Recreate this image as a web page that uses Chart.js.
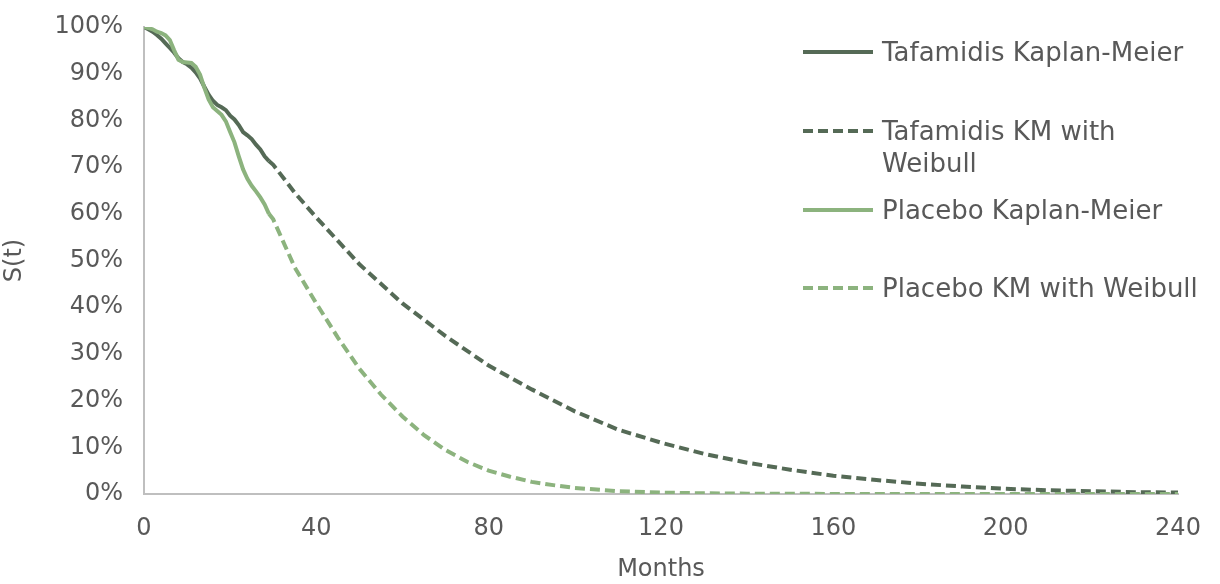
<!DOCTYPE html>
<html>
<head>
<meta charset="utf-8">
<script src="https://cdn.jsdelivr.net/npm/chart.js@4"></script>
<style>
  html, body { margin: 0; padding: 0; background: #fff; }
  .wrap { position: relative; width: 1220px; height: 584px; }
  #survChart { position: absolute; left: 0; top: 0; }
  .legend { position: absolute; left: 0; top: 0; width: 1220px; height: 584px; pointer-events: none;
    font-family: "DejaVu Sans", sans-serif; font-size: 26px; color: #595959; }
  .legend-item { position: absolute; left: 803px; display: flex; align-items: flex-start; }
  .legend-item svg { flex: none; }
  .legend-item span { margin-left: 9px; line-height: 32px; white-space: nowrap; }
</style>
</head>
<body>
<div class="wrap">
  <canvas id="survChart" width="1220" height="584"></canvas>
  <div class="legend" id="legend"></div>
</div>
<script>
// Kaplan-Meier (observed) survival, % by month
const tafKmMonths = [0, 1, 2, 3, 4, 5, 6, 7, 8, 9, 10, 11, 12, 13, 14, 15, 16, 17, 18, 19, 20, 21, 22, 23, 24, 25, 26, 27, 28, 29];
const tafKmSurv = [100, 99.5, 99, 98.3, 97.5, 96.5, 95.5, 94.5, 93.3, 92.5, 92, 91.3, 90.3, 89, 87.2, 85.5, 84.2, 83.3, 82.8, 82.2, 81, 80.2, 79, 77.5, 76.8, 76, 74.8, 73.8, 72.3, 71.3];

const plaKmMonths = [0, 1, 2, 3, 4, 5, 6, 7, 8, 9, 10, 11, 12, 13, 14, 15, 16, 17, 18, 19, 20, 21, 22, 23, 24, 25, 26, 27, 28, 29];
const plaKmSurv = [100, 99.8, 99.5, 99, 98.7, 98.2, 97.2, 95, 93, 92.5, 92.4, 92.3, 91.5, 89.8, 87, 84.5, 82.8, 82, 81.2, 79.8, 77.5, 75.3, 72.3, 69.5, 67.5, 66, 64.8, 63.5, 62, 60];

// KM with Weibull extrapolation, % by month
const tafWbMonths = [29, 30, 35, 40, 50, 60, 70, 80, 90, 100, 110, 120, 130, 140, 150, 160, 170, 180, 190, 200, 210, 220, 230, 240];
const tafWbSurv = [71.3, 70.5, 64.5, 59.2, 49.2, 40.8, 33.8, 27.5, 22.4, 17.7, 13.8, 11.0, 8.6, 6.7, 5.2, 3.9, 3.0, 2.2, 1.6, 1.1, 0.8, 0.6, 0.4, 0.3];

const plaWbMonths = [29, 30, 35, 40, 45, 50, 55, 60, 65, 70, 75, 80, 85, 90, 95, 100, 110, 120, 130, 140, 160, 200, 240];
const plaWbSurv = [60, 58.8, 48.5, 40.8, 33.5, 26.8, 21.3, 16.6, 12.6, 9.4, 6.9, 5.0, 3.7, 2.6, 1.9, 1.3, 0.6, 0.3, 0.15, 0.07, 0.02, 0, 0];

const seriesLabels = ["Tafamidis Kaplan-Meier", "Tafamidis KM with Weibull", "Placebo Kaplan-Meier", "Placebo KM with Weibull"];
const xTicks = [0, 40, 80, 120, 160, 200, 240];
const yTicks = [0, 10, 20, 30, 40, 50, 60, 70, 80, 90, 100];

const darkGreen = "#556a56";
const lightGreen = "#8cb37e";
const textColor = "#595959";
const axisColor = "#bfbfbf";
const fontFamily = "'DejaVu Sans', sans-serif";
const lineW = 4;
const dash = [10, 5];

const toPoints = (xs, ys) => xs.map((x, i) => ({ x, y: ys[i] }));

const datasets = [
  { label: seriesLabels[0], data: toPoints(tafKmMonths, tafKmSurv), borderColor: darkGreen, borderWidth: lineW, order: 2 },
  { label: seriesLabels[1], data: toPoints(tafWbMonths, tafWbSurv), borderColor: darkGreen, borderWidth: lineW, borderDash: dash, order: 2 },
  { label: seriesLabels[2], data: toPoints(plaKmMonths, plaKmSurv), borderColor: lightGreen, borderWidth: lineW, order: 1 },
  { label: seriesLabels[3], data: toPoints(plaWbMonths, plaWbSurv), borderColor: lightGreen, borderWidth: lineW, borderDash: dash, order: 1 }
];

new Chart(document.getElementById("survChart"), {
  type: "line",
  data: { datasets },
  options: {
    responsive: false,
    animation: false,
    layout: { padding: { top: 27, right: 42, left: 0, bottom: 0 } },
    elements: { point: { radius: 0 }, line: { tension: 0, borderCapStyle: "butt" } },
    plugins: { legend: { display: false }, tooltip: { enabled: false } },
    scales: {
      x: {
        type: "linear",
        min: 0,
        max: 240,
        afterBuildTicks: scale => { scale.ticks = xTicks.map(v => ({ value: v })); },
        afterFit: scale => { scale.height = 90; scale.paddingLeft = 0; scale.paddingRight = 0; },
        grid: { display: false, drawTicks: false },
        border: { display: true, color: axisColor, width: 2 },
        ticks: { color: textColor, padding: 20, maxRotation: 0, font: { family: fontFamily, size: 24 } },
        title: { display: true, text: "Months", color: textColor, padding: { top: 0, bottom: 0 }, font: { family: fontFamily, size: 24 } }
      },
      y: {
        min: 0,
        max: 100,
        afterBuildTicks: scale => { scale.ticks = yTicks.map(v => ({ value: v })); },
        afterFit: scale => { scale.width = 144; scale.paddingTop = 0; scale.paddingBottom = 0; },
        grid: { display: false, drawTicks: false },
        border: { display: true, color: axisColor, width: 2 },
        ticks: { color: textColor, padding: 21, callback: v => v + "%", font: { family: fontFamily, size: 24 } },
        title: { display: true, text: "S(t)", color: textColor, padding: { top: 0, bottom: 0 }, font: { family: fontFamily, size: 24 } }
      }
    }
  }
});

// legend drawn beside the curves, top right
const legendRows = [
  { top: 36, color: darkGreen, dash: false, text: seriesLabels[0] },
  { top: 115, color: darkGreen, dash: true, text: "Tafamidis KM with<br>Weibull" },
  { top: 194, color: lightGreen, dash: false, text: seriesLabels[2] },
  { top: 272, color: lightGreen, dash: true, text: seriesLabels[3] }
];

document.getElementById("legend").innerHTML = legendRows.map(row => `
  <div class="legend-item" style="top:${row.top}px">
    <svg width="70" height="32"><line x1="0" y1="16" x2="70" y2="16" stroke="${row.color}" stroke-width="${lineW}"
      ${row.dash ? `stroke-dasharray="${dash.join(" ")}"` : ""} /></svg>
    <span>${row.text}</span>
  </div>
`).join("");
</script>
</body>
</html>
